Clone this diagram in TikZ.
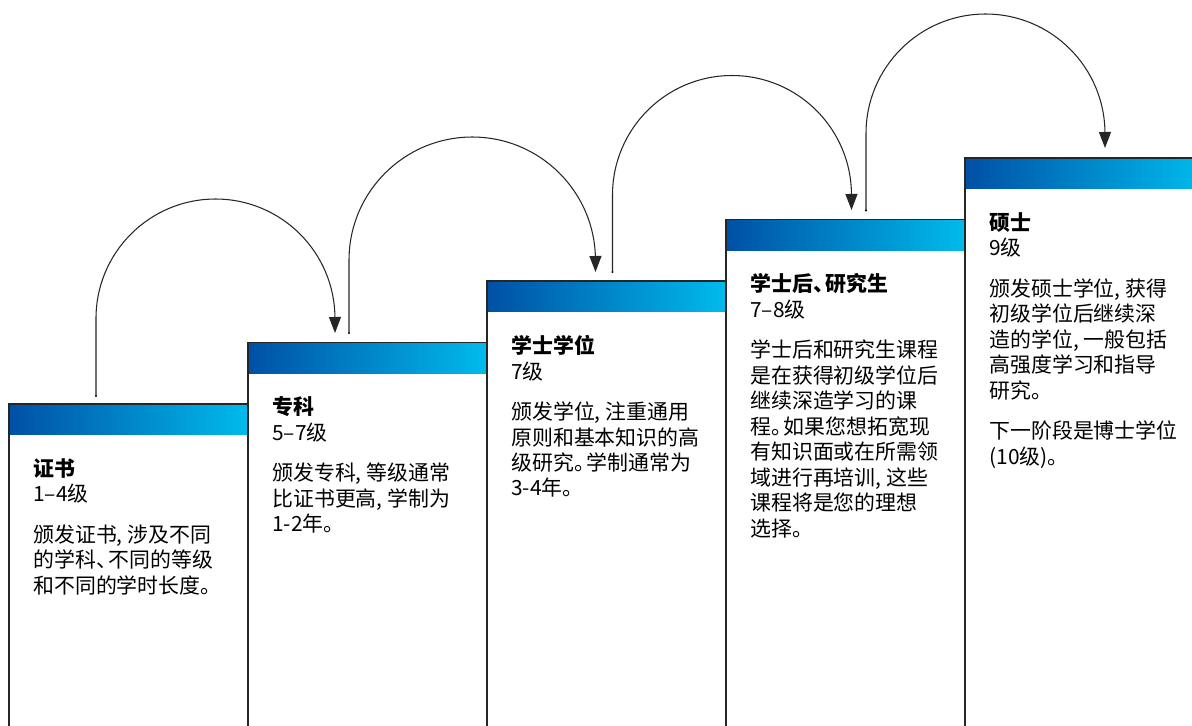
\documentclass[tikz,border=0pt]{standalone}
\usepackage{fontspec}
\setmainfont{Noto Sans CJK SC}
\usetikzlibrary{arrows.meta}

\definecolor{stepdark}{RGB}{0,80,164}
\definecolor{steplight}{RGB}{0,187,236}

\newcommand{\hp}{\kern-0.4em}

\tikzset{
	boxline/.style={draw=black!85, line width=0.9pt},
	headbar/.style={left color=stepdark, right color=steplight},
	stepText/.style={anchor=north west, inner sep=0pt, align=left, font=\fontsize{11.9pt}{14.5pt}\selectfont},
	jump/.style={draw=black!85, line width=0.6pt, -{Triangle[length=0.32cm, width=0.24cm]}}
}

\begin{document}
\begin{tikzpicture}[x=0.02cm, y=0.02cm]
	\useasboundingbox (0,0) rectangle (1192,726);
	\clip (0,0) rectangle (1192,726);
	% steps
	\shade[headbar] (9,291) rectangle (248,322);
	\shade[headbar] (248,352.5) rectangle (487,383.5);
	\shade[headbar] (487,414) rectangle (726,445);
	\shade[headbar] (726,475.5) rectangle (965,506.5);
	\shade[headbar] (965,537) rectangle (1204,568);
		\draw[boxline] (9,-10) rectangle (248,322);
		\draw[boxline] (248,-10) rectangle (487,383.5);
		\draw[boxline] (487,-10) rectangle (726,445);
		\draw[boxline] (726,-10) rectangle (965,506.5);
		\draw[boxline] (965,-10) rectangle (1204,568);
	% texts
	\node[stepText] (cert) at (33,268) {\textbf{证书}\\1–4级\\[0.3cm]颁发证书, 涉及不同\\的学科、\hp 不同的等级\\和不同的学时长度。};
	\node[stepText] (dipl) at (272,329.5) {\textbf{专科}\\5–7级\\[0.3cm]颁发专科, 等级通常\\比证书更高, 学制为\\1-2年。};
	\node[stepText] (bach) at (511,391) {\textbf{学士学位}\\7级\\[0.3cm]颁发学位, 注重通用\\原则和基本知识的高\\级研究。\hp 学制通常为\\3-4年。};
	\node[stepText] (grad) at (750,452.5) {\textbf{学士后、\hp 研究生}\\7–8级\\[0.3cm]学士后和研究生课程\\是在获得初级学位后\\继续深造学习的课\\程。\hp 如果您想拓宽现\\有知识面或在所需领\\域进行再培训, 这些\\课程将是您的理想\\选择。};
	\node[stepText] (mast) at (989,514) {\textbf{硕士}\\9级\\[0.3cm]颁发硕士学位, 获得\\初级学位后继续深\\造的学位, 一般包括\\高强度学习和指导\\研究。\\[0.3cm]下一阶段是博士学位\\(10级)。};
	% jumps
	\coordinate (s1) at (96,330);
	\coordinate (t1) at (335,393);
	\coordinate (s2) at (349,393);
	\coordinate (t2) at (595.5,454);
	\coordinate (s3) at (612.5,454);
	\coordinate (t3) at (851.5,516);
	\coordinate (s4) at (866,515.5);
	\coordinate (t4) at (1105,578);
		\fill (s1) circle (0.7pt);
		\fill (s2) circle (0.7pt);
		\fill (s3) circle (0.7pt);
		\fill (s4) circle (0.7pt);
	\draw[jump] (s1) -- ++(0,77.5) arc[start angle=180, end angle=0, radius=2.39cm] -- (t1);
	\draw[jump] (s2) -- ++(0,72.75) arc[start angle=180, end angle=0, radius=2.465cm] -- (t2);
	\draw[jump] (s3) -- ++(0,77) arc[start angle=180, end angle=0, radius=2.39cm] -- (t3);
	\draw[jump] (s4) -- ++(0,77) arc[start angle=180, end angle=0, radius=2.39cm] -- (t4);
\end{tikzpicture}
\end{document}
